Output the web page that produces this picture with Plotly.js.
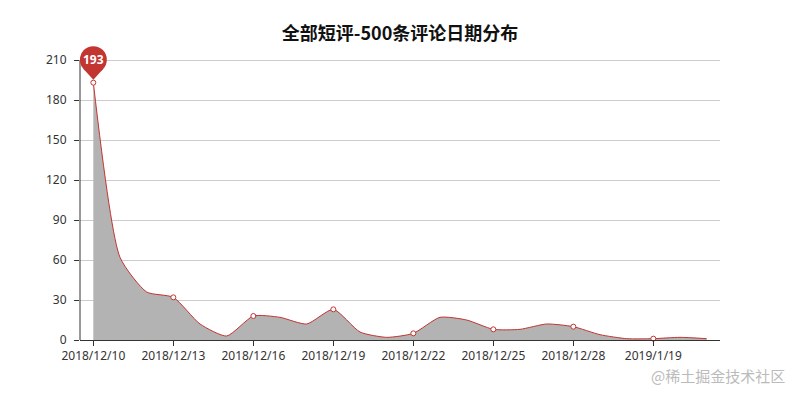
<!DOCTYPE html>
<html><head><meta charset="utf-8">
<script src="https://cdn.plot.ly/plotly-3.0.1.min.js"></script>
<style>html,body{margin:0;padding:0;background:#fff}#chart{width:800px;height:400px}</style>
</head><body><div id="chart"></div>
<script>
const titleText = '全部短评-500条评论日期分布';
const watermarkText = '@稀土掘金技术社区';
const categories = [
  '2018/12/10','2018/12/11','2018/12/12','2018/12/13','2018/12/14','2018/12/15',
  '2018/12/16','2018/12/17','2018/12/18','2018/12/19','2018/12/20','2018/12/21',
  '2018/12/22','2018/12/23','2018/12/24','2018/12/25','2018/12/26','2018/12/27',
  '2018/12/28','2018/12/29','2018/12/30','2019/1/19','2019/1/20','2019/1/21'
];
const counts = [193,62,36,32,12,3,18,17,12,23,6,2,5,17,15,8,8,12,10,4,1,1,2,1];
const yTicks = [0,30,60,90,120,150,180,210];
const labelStep = 3;

const red = '#c23531';
const tickCats = categories.filter((_, i) => i % labelStep === 0);
const tickCounts = counts.filter((_, i) => i % labelStep === 0);
const maxVal = Math.max(...counts);
const maxIdx = counts.indexOf(maxVal);
const font = 'Noto Sans, "Noto Sans CJK SC", sans-serif';

const traces = [
  {
    x: categories, y: counts, type: 'scatter', mode: 'lines',
    line: {shape: 'spline', smoothing: 0.6, color: red, width: 1},
    fill: 'tozeroy', fillcolor: '#b3b3b3', hoverinfo: 'x+y'
  },
  {
    x: tickCats, y: tickCounts, type: 'scatter', mode: 'markers',
    marker: {size: 5, color: '#ffffff', line: {color: red, width: 1}},
    cliponaxis: false, hoverinfo: 'skip'
  }
];

const layout = {
  width: 800, height: 400,
  margin: {l: 80, r: 80, t: 20, b: 60},
  paper_bgcolor: '#fff', plot_bgcolor: '#fff',
  showlegend: false,
  title: {
    text: '<b>' + titleText + '</b>',
    x: 0.5, xref: 'container', xanchor: 'center',
    y: 1 - 34/400, yref: 'container', yanchor: 'middle',
    font: {family: '"Noto Sans CJK SC", sans-serif', size: 18, color: '#111'}
  },
  xaxis: {
    type: 'category', range: [-0.5, categories.length - 0.5],
    tickmode: 'array', tickvals: tickCats, ticktext: tickCats,
    ticks: 'outside', ticklen: 5, tickcolor: '#333',
    showline: true, linecolor: '#333', linewidth: 1,
    showgrid: false, zeroline: false,
    tickfont: {family: font, size: 12, color: '#333'}
  },
  yaxis: {
    range: [0, 240],
    tickmode: 'array', tickvals: yTicks, ticktext: yTicks.map(String),
    ticks: 'outside', ticklen: 5, tickcolor: '#333', ticklabelstandoff: 5,
    showline: false, showgrid: true, gridcolor: '#cccccc', zeroline: false,
    tickfont: {family: font, size: 12, color: '#333'}
  },
  shapes: [
    {type: 'line', xref: 'paper', x0: 0, x1: 0, yref: 'y', y0: 0, y1: Math.max(...yTicks),
     line: {color: '#333', width: 1}, layer: 'above'},
    {type: 'path', xref: 'x', yref: 'y', xsizemode: 'pixel', ysizemode: 'pixel',
     xanchor: maxIdx, yanchor: maxVal,
     path: 'M 0 3 L -10 14 L 10 14 Z', fillcolor: red, line: {width: 0}, layer: 'above'},
    {type: 'circle', xref: 'x', yref: 'y', xsizemode: 'pixel', ysizemode: 'pixel',
     xanchor: maxIdx, yanchor: maxVal,
     x0: -13.5, x1: 13.5, y0: 9.5, y1: 36.5, fillcolor: red, line: {width: 0}, layer: 'above'}
  ],
  annotations: [
    {x: maxIdx, y: maxVal, xref: 'x', yref: 'y', text: '<b>' + String(maxVal) + '</b>', showarrow: false,
     yshift: 23, font: {family: font, size: 12, color: '#fff'}},
    {xref: 'paper', yref: 'paper', x: 1 + 67/640, y: -35/320, xanchor: 'right', yanchor: 'middle',
     text: watermarkText, showarrow: false,
     font: {family: '"Noto Sans CJK SC", sans-serif', size: 15, color: '#bbbbbb'}}
  ]
};

Plotly.newPlot('chart', traces, layout, {displayModeBar: false, responsive: false});
</script>
</body></html>
